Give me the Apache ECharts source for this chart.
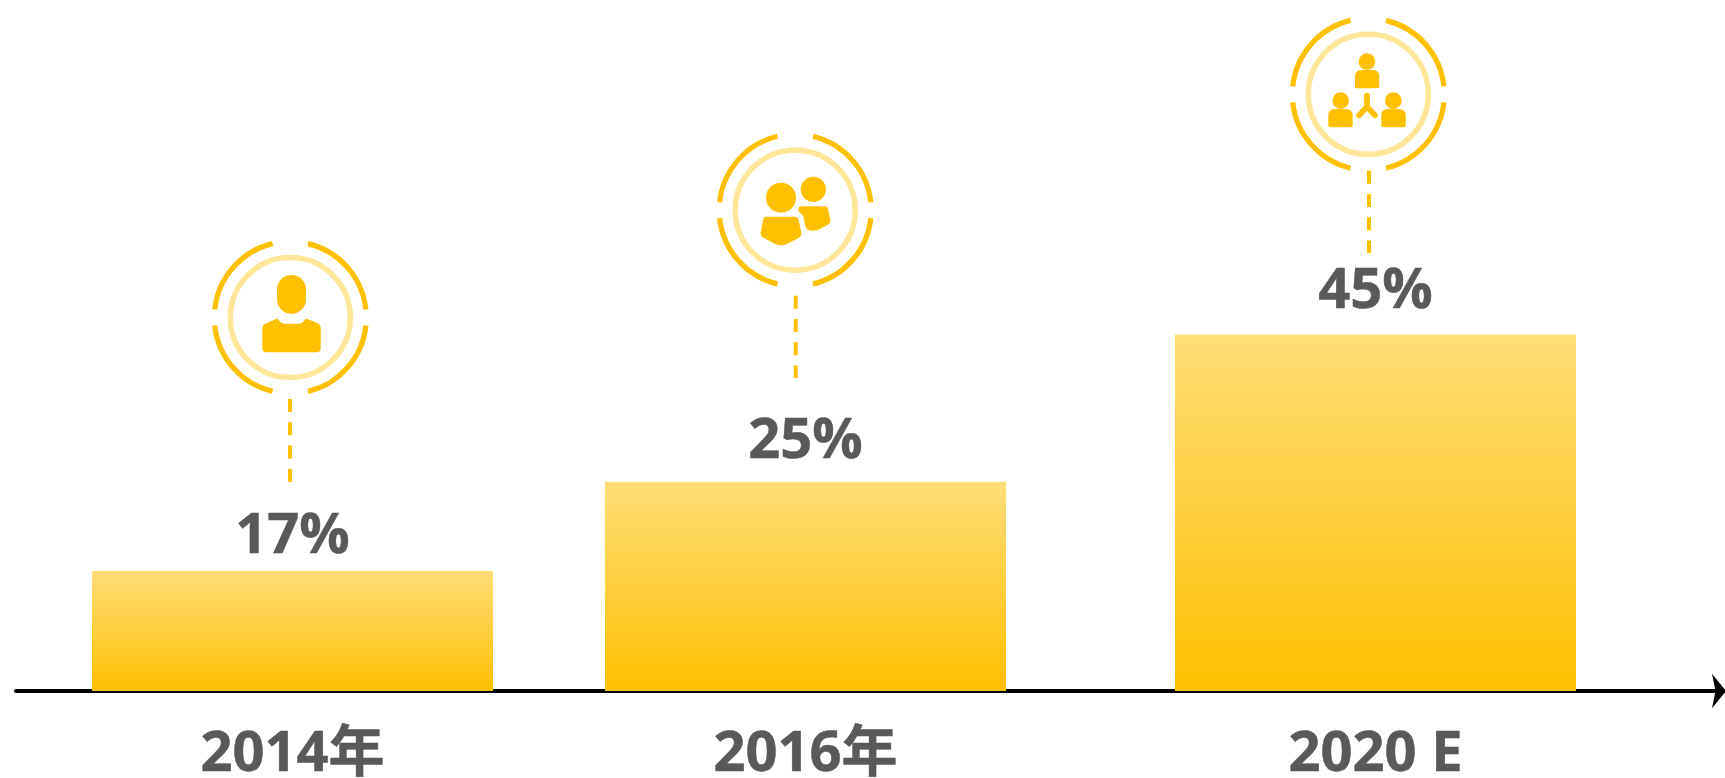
<!DOCTYPE html>
<html>
<head>
<meta charset="utf-8">
<style>html,body{margin:0;padding:0;background:#fff;overflow:hidden}#chart{width:1725px;height:778px}</style>
<script src="https://cdn.jsdelivr.net/npm/echarts@6/dist/echarts.min.js"></script>
</head>
<body>
<div id="chart"></div>
<script>
// Data
const categories = ['2014年', '2016年', '2020 E'];
const percentLabels = ['17%', '25%', '45%'];
// The bars in the picture are not to scale with their printed labels; these are the drawn heights,
// in units where the tallest bar is 45.
const drawnBarValues = [15.15, 26.4, 45];
const slotsBefore = [4, 13, 23];   // uneven spacing of the three bars on the axis
const totalSlots = 29;

const FONT = '"Open Sans","Noto Sans CJK SC",sans-serif';
const GOLD = '#FFC000', PALE = '#FFE699', TEXT = '#595959';

const slotLabels = Array.from({length: totalSlots}, () => '');
const slotData = Array.from({length: totalSlots}, () => null);
const labelGaps = [6, 12, 14];
slotsBefore.forEach((s, i) => {
  slotLabels[s] = categories[i];
  slotData[s] = {
    value: drawnBarValues[i],
    label: {show: true, position: 'top', distance: labelGaps[i], formatter: percentLabels[i]}
  };
});

// Ring and icon decoration
function ring(cx, cy) {
  const d = Math.PI / 180, out = [];
  [[6, 76.5], [103.5, 174], [186, 256.5], [283.5, 354]].forEach(a => out.push({
    type: 'arc',
    shape: {cx, cy, r: 76, startAngle: a[0] * d, endAngle: a[1] * d, clockwise: true},
    style: {fill: 'none', stroke: GOLD, lineWidth: 5.2}
  }));
  out.push({type: 'circle', shape: {cx, cy, r: 60}, style: {fill: 'none', stroke: PALE, lineWidth: 5.5}});
  return out;
}
function leader(x, y1, y2) {
  return {type: 'line', shape: {x1: x, y1, x2: x, y2},
    style: {stroke: GOLD, lineWidth: 4, lineDash: [13, 10.3]}};
}
const fillPath = d => ({type: 'path', shape: {pathData: d}, style: {fill: GOLD}});
const dot = (cx, cy, r) => ({type: 'circle', shape: {cx, cy, r}, style: {fill: GOLD}});
function icon(x, y, children) {
  return {type: 'group', x, y, scaleX: 1 / 3, scaleY: 1 / 3, children};
}
const personBody = (x, y) => `M${x} ${y + 20} Q${x} ${y} ${x + 20} ${y} L${x + 53} ${y} Q${x + 73} ${y} ${x + 73} ${y + 20} L${x + 73} ${y + 49} Q${x + 73} ${y + 55} ${x + 67} ${y + 55} L${x + 6} ${y + 55} Q${x} ${y + 55} ${x} ${y + 49} Z`;

const graphics = [
  ...ring(290.3, 317.5), leader(290, 399, 482),
  icon(190, 220, [
    {type: 'rect', shape: {x: 261, y: 165, width: 87, height: 116, r: 43}, style: {fill: GOLD}},
    fillPath('M217 325 Q217 315 226 311 L258 297 Q262 295 266 300 Q272 311 285 311 L325 311 Q338 311 344 300 Q347 295 352 297 L382 309 Q392 314 392 324 L392 385 Q392 397 380 397 L229 397 Q217 397 217 385 Z')
  ]),
  ...ring(795.2, 210.2), leader(795.7, 295.7, 378),
  icon(700, 120, [
    dot(243, 233, 45), dot(340, 208, 38),
    fillPath('M200 290 L283 290 Q294 290 296 300 L304 338 Q305 348 296 354 L262 371 Q243 380 224 371 L190 353 Q181 348 182 338 L189 300 Q191 290 200 290 Z'),
    fillPath('M302 259 L375 259 Q383 259 384 267 L391 300 Q392 310 384 314 L360 327 Q342 336 324 329 Q318 327 316 318 L311 293 Q309 283 300 278 Q293 273 295 265 Q297 259 302 259 Z')
  ]),
  ...ring(1368.3, 94.3), leader(1369, 170.7, 253),
  icon(1270, 5, [
    dot(291, 170, 25), fillPath(personBody(255, 195)),
    dot(212, 287, 25), fillPath(personBody(175, 312)),
    dot(370, 287, 25), fillPath(personBody(334, 312)),
    {type: 'path', shape: {pathData: 'M291 272 L291 305 M291 305 L267 331 M291 305 L315 331'},
      style: {fill: 'none', stroke: GOLD, lineWidth: 17, lineCap: 'round', lineJoin: 'round'}}
  ])
];

const chart = echarts.init(document.getElementById('chart'), null, {renderer: 'canvas'});
chart.setOption({
  animation: false,
  backgroundColor: '#fff',
  grid: [
    {left: 36, right: 36, top: 0, bottom: 87, outerBoundsMode: 'none'},
    {left: 16, right: 0, top: 0, bottom: 87, outerBoundsMode: 'none'}
  ],
  xAxis: [
    {
      type: 'category', gridIndex: 0, data: slotLabels,
      axisLine: {show: false}, axisTick: {show: false},
      axisLabel: {interval: 0, margin: 36, fontSize: 56, fontWeight: 'bold', color: TEXT, fontFamily: FONT, hideOverlap: false,
        textBorderColor: TEXT, textBorderWidth: 0.5}
    },
    {
      type: 'value', gridIndex: 1, min: 0, max: 1,
      splitLine: {show: false}, axisTick: {show: false}, axisLabel: {show: false},
      axisLine: {show: true, symbol: ['none', 'arrow'], symbolSize: [26, 14], symbolOffset: [0, 1],
        lineStyle: {color: '#000', width: 4}}
    }
  ],
  yAxis: [
    {type: 'value', gridIndex: 0, min: 0, max: 87.2, show: false},
    {type: 'value', gridIndex: 1, min: 0, max: 1, show: false}
  ],
  series: [{
    type: 'bar', xAxisIndex: 0, yAxisIndex: 0,
    data: slotData, barWidth: 401,
    itemStyle: {color: {type: 'linear', x: 0, y: 0, x2: 0, y2: 1, colorStops: [
      {offset: 0, color: '#FFDD78'}, {offset: 1, color: GOLD}
    ]}},
    label: {fontSize: 56, fontWeight: 'bold', color: TEXT, fontFamily: FONT, textBorderColor: TEXT, textBorderWidth: 0.5}
  }, {
    type: 'custom', xAxisIndex: 1, yAxisIndex: 1, silent: true,
    data: [[0, 0]],
    renderItem: () => ({type: 'group', children: graphics})
  }]
});
</script>
</body>
</html>
